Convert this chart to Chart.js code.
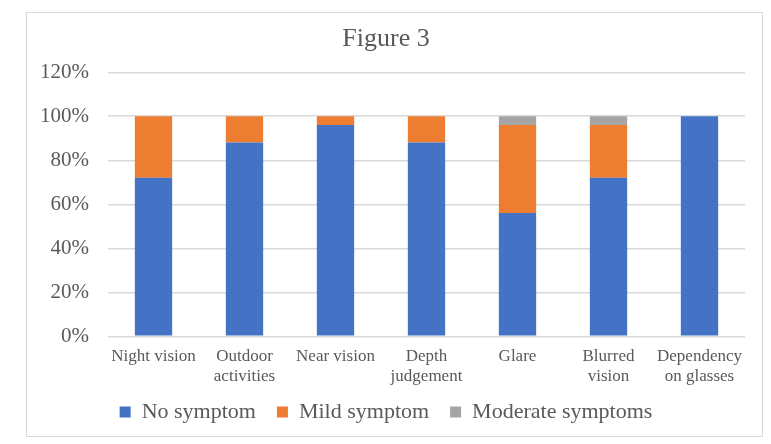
<!DOCTYPE html>
<html>
<head>
<meta charset="utf-8">
<script src="https://cdn.jsdelivr.net/npm/chart.js@4/dist/chart.umd.min.js"></script>
<style>
  html, body { margin: 0; padding: 0; background: #fff; }
  body { width: 771px; height: 444px; position: relative; overflow: hidden; }
  #frame {
    position: absolute; left: 26px; top: 12px; width: 735px; height: 423px;
    border: 1px solid #d9d9d9; background: #fff;
  }
  #frame canvas { display: block; }
</style>
</head>
<body>
<div id="frame"><canvas id="fig3" width="735" height="423"></canvas></div>
<script>
const categories = [
  'Night vision',
  ['Outdoor', 'activities'],
  'Near vision',
  ['Depth', 'judgement'],
  'Glare',
  ['Blurred', 'vision'],
  ['Dependency', 'on glasses']
];
const noSymptom = [72, 88, 96, 88, 56, 72, 100];
const mildSymptom = [28, 12, 4, 12, 40, 24, 0];
const moderateSymptoms = [0, 0, 0, 0, 4, 4, 0];

const serif = 'Liberation Serif';
const textGrey = '#595959';

// pull the legend up a little so its row sits close under the category labels
const legendNudge = {
  id: 'legendNudge',
  afterLayout(chart) {
    chart.legend.top -= 9;
    chart.legend.bottom -= 9;
  }
};

const ctx = document.getElementById('fig3').getContext('2d');
new Chart(ctx, {
  type: 'bar',
  data: {
    labels: categories,
    datasets: [
      { label: 'No symptom', data: noSymptom, backgroundColor: '#4472c4' },
      { label: 'Mild symptom', data: mildSymptom, backgroundColor: '#ed7d31' },
      { label: 'Moderate symptoms', data: moderateSymptoms, backgroundColor: '#a5a5a5' }
    ]
  },
  plugins: [legendNudge],
  options: {
    responsive: false,
    animation: false,
    layout: { padding: { left: 0, right: 17, top: 8, bottom: 0 } },
    datasets: {
      bar: { categoryPercentage: 1, barPercentage: 0.41 }
    },
    plugins: {
      title: {
        display: true,
        text: 'Figure 3',
        color: textGrey,
        font: { family: serif, size: 26, weight: 'normal' },
        padding: { top: 3, bottom: 17 }
      },
      legend: {
        position: 'bottom',
        maxHeight: 47,
        labels: {
          color: textGrey,
          font: { family: serif, size: 22 },
          boxWidth: 11,
          boxHeight: 11,
          padding: 21
        }
      },
      tooltip: { enabled: false }
    },
    scales: {
      x: {
        stacked: true,
        grid: { display: false },
        border: { display: false },
        ticks: {
          color: textGrey,
          font: { family: serif, size: 17, lineHeight: 1.2 },
          maxRotation: 0,
          autoSkip: false,
          padding: 2
        }
      },
      y: {
        stacked: true,
        min: 0,
        max: 120,
        grid: { color: '#d9d9d9', lineWidth: 1.4, drawTicks: false },
        border: { display: false },
        afterFit: s => { s.width = 81; },
        ticks: {
          stepSize: 20,
          color: textGrey,
          font: { family: serif, size: 21 },
          padding: 19,
          callback: v => v + '%'
        }
      }
    }
  }
});
</script>
</body>
</html>
